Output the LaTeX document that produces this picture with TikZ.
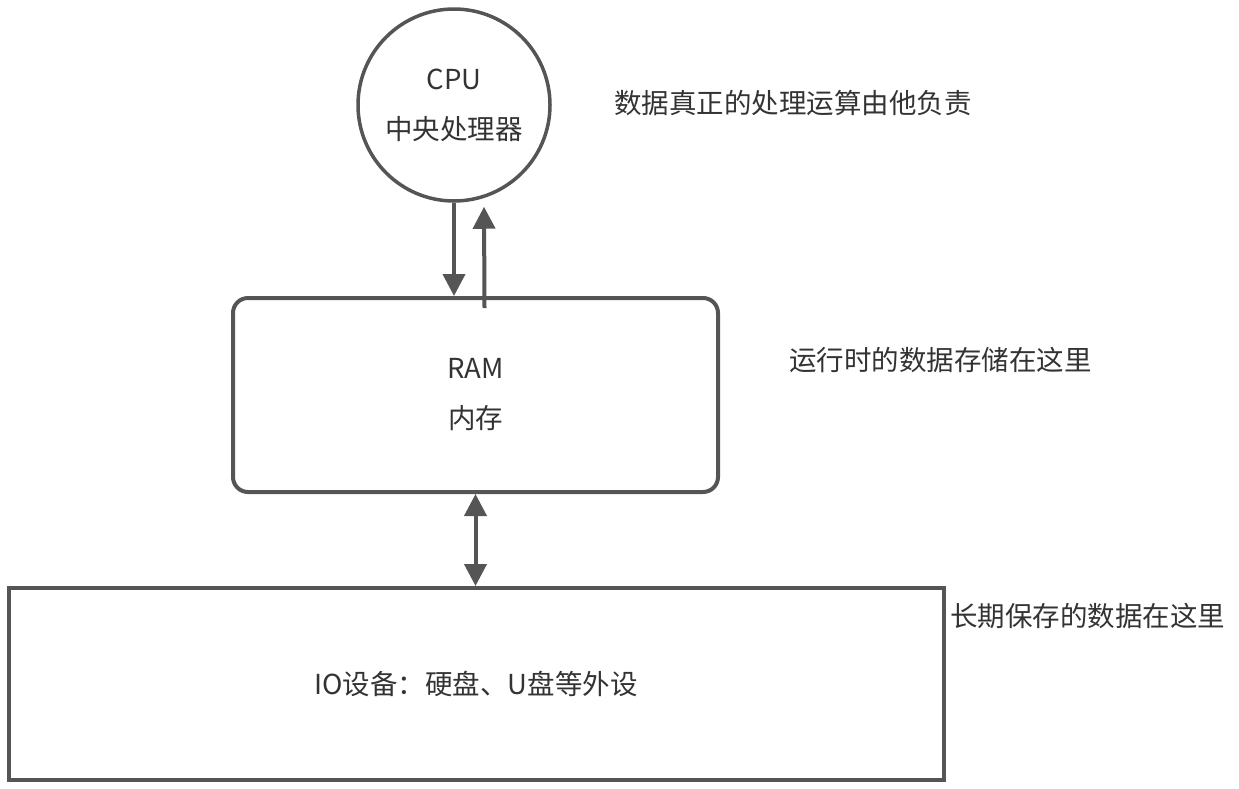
\documentclass[tikz,border=0pt]{standalone}
\usepackage{fontspec}
\setmainfont{Noto Sans CJK SC}
\usetikzlibrary{arrows.meta}
\definecolor{linegray}{HTML}{555555}
\definecolor{textgray}{HTML}{333333}

\begin{document}
\begin{tikzpicture}[x=1pt,y=-1pt,color=linegray,line width=4pt,
  every node/.style={text=textgray,font=\fontsize{27.5}{50}\selectfont},
  cpu node/.style={circle,draw=linegray,line width=3.5pt,minimum size=192pt,align=center},
  box node/.style={rectangle,draw=linegray,line width=4pt,align=center},
  note/.style={anchor=west,inner sep=0pt},
  flow/.style={line width=4pt,-{Triangle[width=22pt,length=22pt]}}]

  \useasboundingbox (0,0) rectangle (1239,788);

  \node[cpu node] (cpu) at (454,105) {CPU\\中央处理器};
  \node[box node,rounded corners=15pt,minimum width=485pt,minimum height=194pt]
    (ram) at (475.5,395) {RAM\\内存};
  \node[box node,minimum width=935pt,minimum height=192pt]
    (io) at (476,684) {IO设备：硬盘、U盘等外设};

  \node[note] (cpunote) at (612,103) {数据真正的处理运算由他负责};
  \node[note] (ramnote) at (787,360) {运行时的数据存储在这里};
  \node[note] (ionote) at (948,616) {长期保存的数据在这里};

  % up arrow starts inside the RAM box
  \coordinate (tailup) at ([xshift=9pt,yshift=-12pt]ram.north);
  \coordinate (tipup) at ([xshift=30pt,yshift=-4pt]cpu.south);

  \draw[flow] (cpu.south) -- (cpu.south |- ram.north);
  \draw[flow] (tailup) -- (tipup);
  \draw[flow,{Triangle[width=22pt,length=22pt]}-{Triangle[width=22pt,length=22pt]}]
    (ram.south) -- (ram.south |- io.north);

\end{tikzpicture}
\end{document}
